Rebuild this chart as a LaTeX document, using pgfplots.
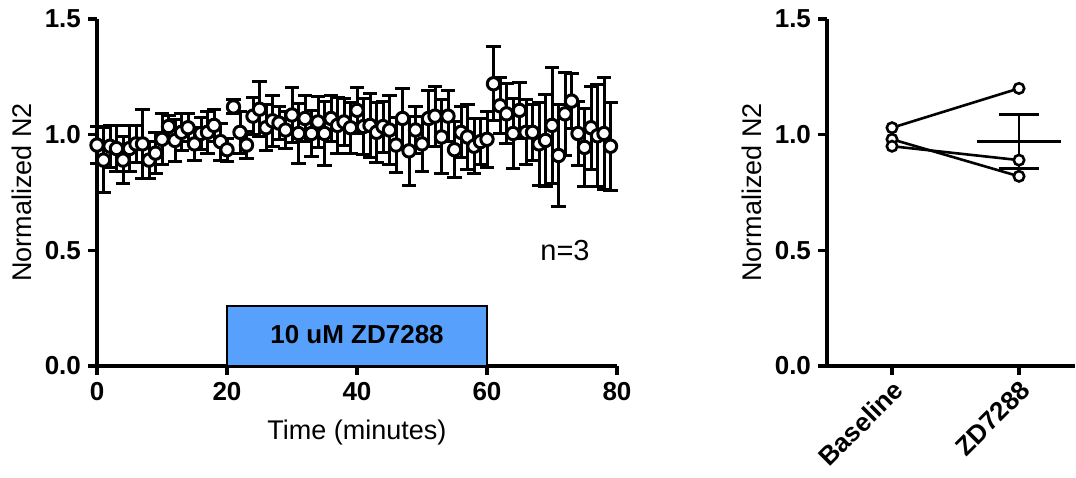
\documentclass[border=0pt]{standalone}
\usepackage{pgfplots}
\pgfplotsset{compat=1.18}
\usepackage{pgfplotstable}
\usepackage{fontspec}
\setmainfont{Liberation Sans}
\definecolor{drugblue}{RGB}{87,160,252}

% time course: minute, mean normalized N2, SEM
\pgfplotstableread{
t y e
0 0.955 0.08
1 0.89 0.14
2 0.95 0.09
3 0.94 0.10
4 0.89 0.10
5 0.94 0.10
6 0.96 0.08
7 0.96 0.15
8 0.89 0.08
9 0.92 0.09
10 0.98 0.11
11 1.035 0.05
12 0.975 0.09
13 1.01 0.08
14 1.03 0.06
15 0.96 0.07
16 1.005 0.07
17 1.01 0.09
18 1.04 0.07
19 0.97 0.08
20 0.935 0.05
21 1.12 0.03
22 1.01 0.09
23 0.955 0.06
24 1.08 0.08
25 1.11 0.12
26 1.03 0.10
27 1.06 0.11
28 1.05 0.07
29 1.02 0.08
30 1.085 0.12
31 1.005 0.13
32 1.07 0.10
33 1.005 0.10
34 1.055 0.11
35 1.005 0.14
36 1.07 0.10
37 1.04 0.12
38 1.055 0.10
39 1.03 0.11
40 1.105 0.10
41 1.035 0.12
42 1.04 0.14
43 1.01 0.13
44 1.035 0.11
45 1.02 0.15
46 0.955 0.12
47 1.07 0.13
48 0.93 0.15
49 1.02 0.10
50 0.96 0.12
51 1.07 0.12
52 1.08 0.13
53 0.99 0.16
54 1.08 0.11
55 0.935 0.12
56 1.01 0.11
57 0.99 0.14
58 0.95 0.12
59 0.97 0.10
60 0.98 0.12
61 1.22 0.16
62 1.125 0.12
63 1.09 0.13
64 1.005 0.15
65 1.105 0.12
66 1.01 0.14
67 1.01 0.12
68 0.96 0.18
69 0.975 0.20
70 1.04 0.25
71 0.91 0.22
72 1.09 0.18
73 1.145 0.12
74 1.005 0.14
75 0.945 0.17
76 1.03 0.18
77 0.995 0.22
78 1.005 0.24
79 0.95 0.19
}\timecourse

\pgfplotsset{
  panel/.style={
    scale only axis,
    height=173.5pt,
    axis lines=left,
    axis line style={line width=1.7pt, -},
    tick style={line width=1.7pt, black},
    major tick length=4.5pt,
    tick align=outside,
    ymin=0, ymax=1.5,
    ytick={0,0.5,1,1.5},
    y tick label style={/pgf/number format/.cd, fixed, fixed zerofill, precision=1, /tikz/.cd},
    /pgf/number format/assume math mode=true,
    tick label style={font=\fontsize{13}{15}\selectfont\bfseries},
    label style={font=\fontsize{13.5}{16}\selectfont},
    clip=false,
  }
}

\begin{document}
\begin{tikzpicture}
\useasboundingbox (0,0) rectangle (538pt,238.5pt);

% left panel: time course
\begin{axis}[panel,
  at={(48.5pt,55.5pt)}, anchor=south west,
  width=260pt,
  xmin=0, xmax=80,
  xtick={0,20,40,60,80},
  xlabel={Time (minutes)},
  ylabel={Normalized N2},
  xlabel style={at={(axis description cs:0.5,-0.193)}, anchor=center},
  ylabel style={at={(axis description cs:-0.144,0.5)}, anchor=center},
]
\draw[fill=drugblue, line width=0.8pt] (axis cs:20,0) rectangle (axis cs:60,0.26);
\node[font=\fontsize{13}{15}\selectfont\bfseries] at (axis cs:40,0.135) {10 uM ZD7288};
\node[font=\fontsize{14.5}{17}\selectfont] at (axis cs:72,0.5) {n=3};
\addplot[only marks, mark=*, mark size=3.1pt,
  mark options={fill=white, draw=black, line width=1.5pt},
  error bars/.cd, y dir=both, y explicit,
  error bar style={line width=1.5pt, black},
  error mark options={rotate=90, mark size=3.6pt, line width=1.5pt, black}]
  table[x=t, y=y, y error=e] {\timecourse};
\end{axis}

% right panel: paired comparison
\begin{axis}[panel,
  at={(413.5pt,55.5pt)}, anchor=south west,
  width=124pt,
  xmin=-0.512, xmax=1.441,
  xtick={0,1},
  xticklabels={Baseline,ZD7288},
  x tick label style={rotate=45, anchor=east, yshift=-6pt, xshift=2pt},
  ylabel={Normalized N2},
  ylabel style={at={(axis description cs:-0.302,0.5)}, anchor=center},
]
\addplot[black, line width=1.3pt, mark=*, mark size=2.6pt, mark options={fill=white, line width=1.3pt}]
  coordinates {(0,1.03) (1,1.20)};
\addplot[black, line width=1.3pt, mark=*, mark size=2.6pt, mark options={fill=white, line width=1.3pt}]
  coordinates {(0,0.98) (1,0.82)};
\addplot[black, line width=1.3pt, mark=*, mark size=2.6pt, mark options={fill=white, line width=1.3pt}]
  coordinates {(0,0.95) (1,0.89)};
% mean and SEM of the ZD7288 values
\addplot[black, line width=1.4pt] coordinates {(0.669,0.97) (1.331,0.97)};
\addplot[draw=none, forget plot,
  error bars/.cd, y dir=both, y explicit,
  error bar style={line width=1.4pt, black},
  error mark options={rotate=90, mark size=10pt, line width=1.4pt, black}]
  coordinates {(1,0.97) +- (0,0.117)};
\end{axis}
\end{tikzpicture}
\end{document}
